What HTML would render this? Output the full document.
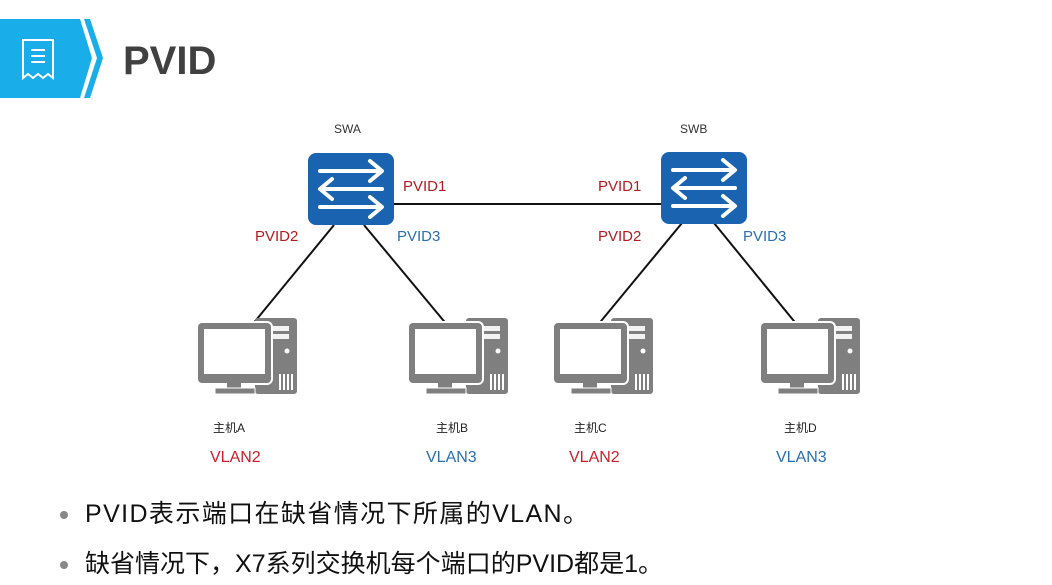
<!DOCTYPE html>
<html><head><meta charset="utf-8"><style>
html,body{margin:0;padding:0;background:#fff;}
svg{display:block;}
text{font-family:"Liberation Sans","Noto Sans CJK SC",sans-serif;}
</style></head><body>
<svg width="1052" height="585" viewBox="0 0 1052 585" xmlns="http://www.w3.org/2000/svg">
<defs>
<g id="pc">
  <rect x="58" y="0" width="42" height="76" rx="3" fill="#7f7f7f"/>
  <rect x="64" y="8" width="28" height="5" fill="#fff" opacity="0.9"/>
  <rect x="64" y="16" width="28" height="5" fill="#fff" opacity="0.9"/>
  <circle cx="90" cy="33" r="2.5" fill="#fff"/>
  <rect x="82" y="56" width="2" height="16" fill="#fff"/>
  <rect x="86" y="56" width="2" height="16" fill="#fff"/>
  <rect x="90" y="56" width="2" height="16" fill="#fff"/>
  <rect x="94" y="56" width="2" height="16" fill="#fff"/>
  <rect x="0" y="4" width="75" height="62" rx="5" fill="#7f7f7f" stroke="#fff" stroke-width="2"/>
  <rect x="7" y="11" width="61" height="45" fill="#fff"/>
  <rect x="30" y="64" width="14" height="8" fill="#7f7f7f"/>
  <rect x="18" y="70" width="40" height="6" fill="#7f7f7f" stroke="#fff" stroke-width="1"/>
</g>
<g id="sw">
  <rect x="0" y="0" width="86" height="72" rx="8" fill="#1a63b1"/>
  <g stroke="#fff" stroke-width="4" fill="none" stroke-linecap="round" stroke-linejoin="round">
    <line x1="12" y1="18" x2="72" y2="18"/><polyline points="62,8 74,18 62,28"/>
    <line x1="14" y1="36" x2="74" y2="36"/><polyline points="24,26 12,36 24,46"/>
    <line x1="12" y1="54" x2="72" y2="54"/><polyline points="62,44 74,54 62,64"/>
  </g>
</g>
</defs>
<polygon points="0,19 80,19 92,58 80,98 0,98" fill="#19aee9"/>
<polygon points="84,19 90,19 103,58 90,98 84,98 97,58" fill="#19aee9"/>
<g stroke="#fff" stroke-width="2" fill="none">
  <path d="M23,40 h30 v38 l-5,-4 -5,4 -5,-4 -5,4 -5,-4 -5,4 z"/>
  <line x1="31" y1="50" x2="45" y2="50"/><line x1="31" y1="56" x2="45" y2="56"/><line x1="31" y1="62" x2="45" y2="62"/>
</g>
<text x="123" y="74" font-size="40" font-weight="bold" fill="#404040">PVID</text>
<g stroke="#111" stroke-width="2">
  <line x1="394" y1="204" x2="662" y2="204"/>
  <line x1="334" y1="225" x2="252" y2="325"/>
  <line x1="364" y1="225" x2="448" y2="326"/>
  <line x1="682" y1="223" x2="597" y2="326"/>
  <line x1="714" y1="223" x2="798" y2="326"/>
</g>
<use href="#sw" x="308" y="153"/>
<use href="#sw" x="661" y="152"/>
<use href="#pc" x="197" y="318"/>
<use href="#pc" x="408" y="318"/>
<use href="#pc" x="553" y="318"/>
<use href="#pc" x="760" y="318"/>
<text x="334" y="133" font-size="12" fill="#333">SWA</text>
<text x="680" y="133" font-size="12" fill="#333">SWB</text>
<g font-size="15">
<text x="403" y="191" fill="#b01c22">PVID1</text>
<text x="598" y="191" fill="#b01c22">PVID1</text>
<text x="255" y="241" fill="#b01c22">PVID2</text>
<text x="397" y="241" fill="#2a6fb0">PVID3</text>
<text x="598" y="241" fill="#b01c22">PVID2</text>
<text x="743" y="241" fill="#2a6fb0">PVID3</text>
</g>
<g font-size="12" fill="#222">
<text x="213" y="432">主机A</text>
<text x="436" y="432">主机B</text>
<text x="574" y="432">主机C</text>
<text x="784" y="432">主机D</text>
</g>
<g font-size="16">
<text x="210" y="462" fill="#c8202a">VLAN2</text>
<text x="426" y="462" fill="#2a6fb0">VLAN3</text>
<text x="569" y="462" fill="#c8202a">VLAN2</text>
<text x="776" y="462" fill="#2a6fb0">VLAN3</text>
</g>
<circle cx="64" cy="515" r="4" fill="#888"/>
<circle cx="64" cy="565" r="4" fill="#888"/>
<text x="85" y="522" font-size="25" fill="#111" textLength="503" lengthAdjust="spacing">PVID表示端口在缺省情况下所属的VLAN。</text>
<text x="85" y="572" font-size="25" fill="#111" textLength="578" lengthAdjust="spacing">缺省情况下，X7系列交换机每个端口的PVID都是1。</text>
</svg>
</body></html>
